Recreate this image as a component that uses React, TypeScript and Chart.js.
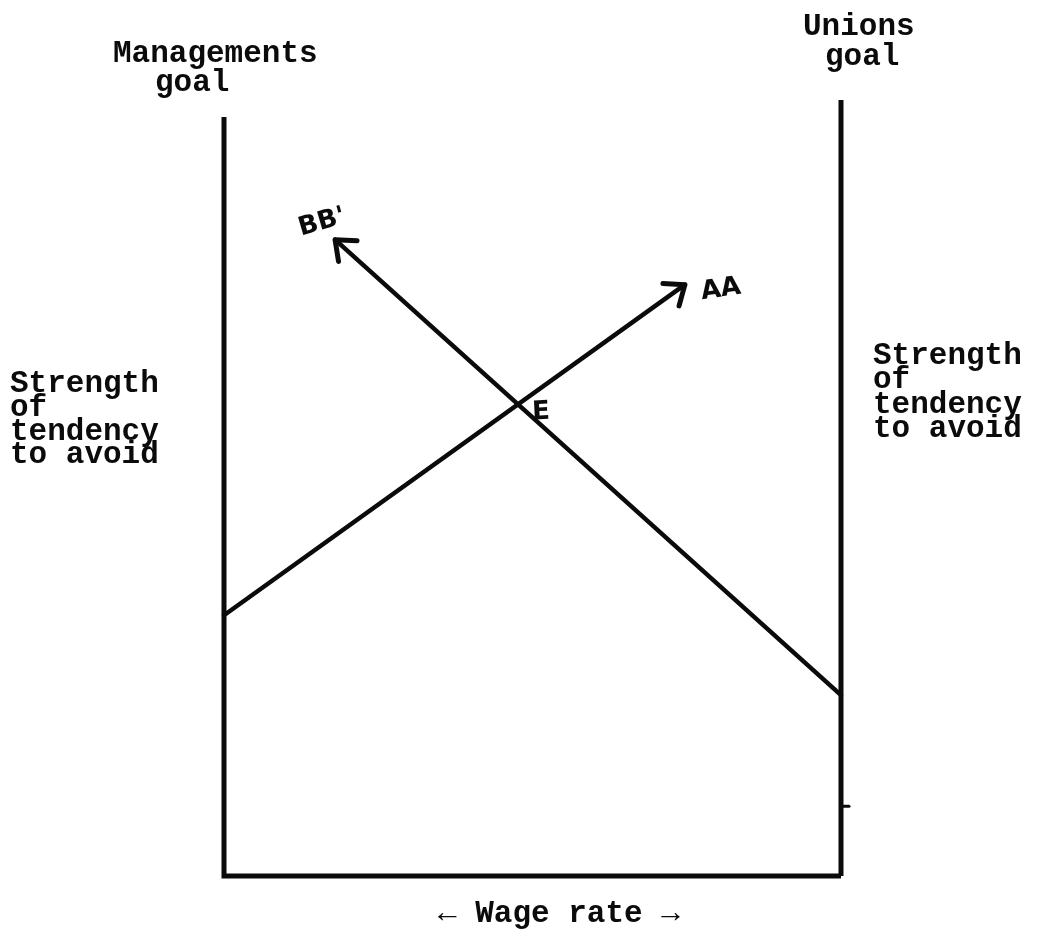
import React, { useEffect, useRef } from "react";
import { Chart, registerables } from "chart.js";

Chart.register(...registerables);

// Axis frame (data units: x = wage rate 0..100, y = strength 0..100)
const leftAxisX = [0, 0, 100];
const leftAxisY = [97.8, 0, 0];
const rightAxisX = [100, 100];
const rightAxisY = [100, 0];
const rightTickX = [100, 101.3];
const rightTickY = [9.0, 9.0];

// Curves
const aaX = [0, 74.7];
const aaY = [33.6, 76.2];
const bbX = [100, 18.0];
const bbY = [23.3, 82.0];

// Text
const curveLabels = ["AA", "BB'"];
const equilibriumLabel = "E";
const leftGoal = ["Managements", "goal"];
const rightGoal = ["Unions", "goal"];
const sideLabel = ["Strength", "of", "tendency", "to avoid"];
const xAxisLabel = "\u2190 Wage rate \u2192";

const INK = "#0b0b0b";
const TYPE_FONT = "bold 31px 'Liberation Mono', 'DejaVu Sans Mono', monospace";
const HAND_FONT = "bold 26px 'DejaVu Sans', sans-serif";

const toPts = (xs: number[], ys: number[]) => xs.map((x, i) => ({ x, y: ys[i] }));

export default function App() {
  const ref = useRef<HTMLCanvasElement | null>(null);

  useEffect(() => {
    if (!ref.current) return;

    const bgPlugin = {
      id: "bg",
      beforeDraw(chart: any) {
        const c = chart.ctx;
        c.save();
        c.fillStyle = "#ffffff";
        c.fillRect(0, 0, chart.width, chart.height);
        c.restore();
      },
    };

    const arrowPlugin = {
      id: "arrows",
      afterDatasetsDraw(chart: any) {
        const c = chart.ctx;
        chart.data.datasets.forEach((ds: any, i: number) => {
          if (!ds.arrow) return;
          const pts = chart.getDatasetMeta(i).data;
          const a = pts[pts.length - 2];
          const b = pts[pts.length - 1];
          const ang = Math.atan2(b.y - a.y, b.x - a.x);
          const len = 22;
          const spread = 0.68;
          c.save();
          c.strokeStyle = INK;
          c.lineWidth = 5;
          c.lineCap = "round";
          c.lineJoin = "round";
          c.beginPath();
          c.moveTo(b.x - len * Math.cos(ang - spread), b.y - len * Math.sin(ang - spread));
          c.lineTo(b.x, b.y);
          c.lineTo(b.x - len * Math.cos(ang + spread), b.y - len * Math.sin(ang + spread));
          c.stroke();
          c.restore();
        });
      },
    };

    const handText = (c: any, t: string, x: number, y: number, rot: number) => {
      c.save();
      c.translate(x, y);
      c.rotate(rot);
      c.fillText(t, 0, 0);
      c.restore();
    };

    const textPlugin = {
      id: "texts",
      afterDraw(chart: any) {
        const c = chart.ctx;
        const xs = chart.scales.x;
        const ys = chart.scales.y;
        c.save();
        c.fillStyle = INK;
        c.textBaseline = "alphabetic";
        c.textAlign = "left";
        c.font = TYPE_FONT;
        // top goals
        c.fillText(leftGoal[0], 113, 62);
        c.fillText(leftGoal[1], 155, 91);
        c.fillText(rightGoal[0], 803, 35);
        c.fillText(rightGoal[1], 825, 65);
        // side labels
        sideLabel.forEach((t, i) => c.fillText(t, 10, 392 + i * 23.8));
        sideLabel.forEach((t, i) => c.fillText(t, 873, 364 + i * 24.4));
        // x-axis label
        c.fillText(xAxisLabel, 438, 922);

        // handwritten labels near curve ends
        c.font = HAND_FONT;
        c.textAlign = "center";
        c.textBaseline = "middle";
        const aaEnd = { x: xs.getPixelForValue(aaX[1]), y: ys.getPixelForValue(aaY[1]) };
        handText(c, curveLabels[0], aaEnd.x + 36, aaEnd.y + 5, -0.14);
        const bbEnd = { x: xs.getPixelForValue(bbX[1]), y: ys.getPixelForValue(bbY[1]) };
        handText(c, curveLabels[1], bbEnd.x - 13, bbEnd.y - 17, -0.28);
        // equilibrium label right of intersection
        const x1 = aaX[0], y1 = aaY[0], x2 = aaX[1], y2 = aaY[1];
        const x3 = bbX[0], y3 = bbY[0], x4 = bbX[1], y4 = bbY[1];
        const den = (x1 - x2) * (y3 - y4) - (y1 - y2) * (x3 - x4);
        const t = ((x1 - x3) * (y3 - y4) - (y1 - y3) * (x3 - x4)) / den;
        const ex = x1 + t * (x2 - x1);
        const ey = y1 + t * (y2 - y1);
        handText(c, equilibriumLabel, xs.getPixelForValue(ex) + 23, ys.getPixelForValue(ey) + 8, -0.05);
        c.restore();
      },
    };

    const lineDs = (label: string, data: any[], extra: any = {}) => ({
      label,
      data,
      showLine: true,
      borderColor: INK,
      backgroundColor: INK,
      borderWidth: 4.5,
      pointRadius: 0,
      borderCapStyle: "round",
      borderJoinStyle: "miter",
      tension: 0,
      clip: false,
      ...extra,
    });

    const chart = new Chart(ref.current, {
      type: "scatter",
      data: {
        datasets: [
          lineDs("frame", toPts(leftAxisX, leftAxisY), { borderWidth: 5, borderCapStyle: "butt" }),
          lineDs("right axis", toPts(rightAxisX, rightAxisY), { borderWidth: 5, borderCapStyle: "butt" }),
          lineDs("tick", toPts(rightTickX, rightTickY), { borderWidth: 3 }),
          lineDs("AA", toPts(aaX, aaY), { arrow: true }),
          lineDs("BB'", toPts(bbX, bbY), { arrow: true }),
        ] as any,
      },
      options: {
        responsive: false,
        animation: false,
        devicePixelRatio: 1,
        layout: { padding: { left: 224, right: 196, top: 100, bottom: 60 } },
        plugins: { legend: { display: false }, tooltip: { enabled: false } },
        scales: {
          x: { type: "linear", min: 0, max: 100, display: false },
          y: { type: "linear", min: 0, max: 100, display: false },
        },
      } as any,
      plugins: [bgPlugin, arrowPlugin, textPlugin],
    });
    return () => chart.destroy();
  }, []);

  return (
    <div style={{ position: "fixed", left: 0, top: 0, width: 1037, height: 936, background: "#fff" }}>
      <canvas ref={ref} width={1037} height={936} style={{ display: "block" }} />
    </div>
  );
}
